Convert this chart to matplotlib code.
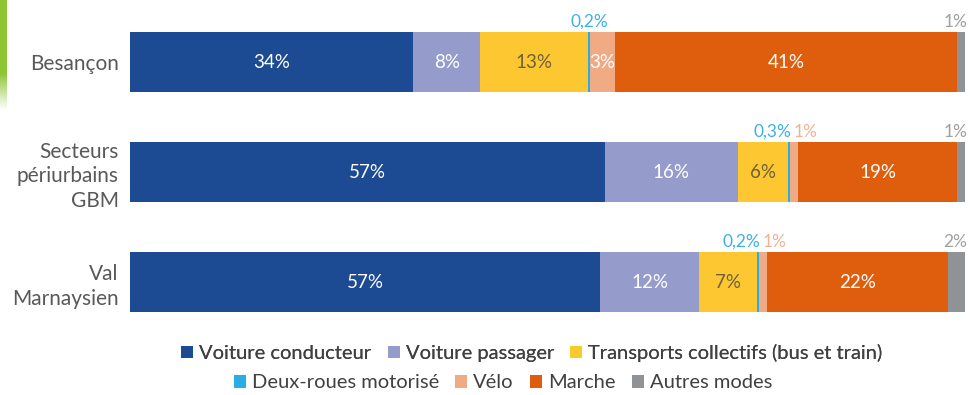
import numpy as np
import matplotlib
matplotlib.use("Agg")
import matplotlib.pyplot as plt
from matplotlib.patches import Patch

plt.rcParams["font.family"] = ["Lato", "DejaVu Sans"]

# Parts modales (%) par territoire
territoires = ["Besançon", "Secteurs\npériurbains\nGBM", "Val\nMarnaysien"]
modes = ["Voiture conducteur", "Voiture passager", "Transports collectifs (bus et train)",
         "Deux-roues motorisé", "Vélo", "Marche", "Autres modes"]
besancon = [34, 8, 13, 0.2, 3, 41, 1]
periurbains = [57, 16, 6, 0.3, 1, 19, 1]
marnaysien = [57, 12, 7, 0.2, 1, 22, 2]
etiquettes = [
    ["34%", "8%", "13%", "0,2%", "3%", "41%", "1%"],
    ["57%", "16%", "6%", "0,3%", "1%", "19%", "1%"],
    ["57%", "12%", "7%", "0,2%", "1%", "22%", "2%"],
]

couleurs = ["#1C4A93", "#959BCA", "#FDC731", "#28AEE4", "#F0AA84", "#DF5E0E", "#909395"]
couleurs_texte = ["white", "white", "#6E6136", "#3AB2E6", "white", "white", "#A0A0A0"]
couleurs_dessus = ["white", "white", "#6E6136", "#3AB2E6", "#F2B394", "white", "#A0A0A0"]

data = np.array([besancon, periurbains, marnaysien], dtype=float)
parts = data / data.sum(axis=1, keepdims=True) * 100  # barres empilées à 100 %

fig = plt.figure(figsize=(9.71, 3.95), dpi=100)
ax = fig.add_axes([130 / 971, 65 / 395, 835 / 971, 330 / 395])

y = np.arange(len(territoires))
hauteur = 0.545
gauche = np.zeros(len(territoires))
for j, mode in enumerate(modes):
    ax.barh(y, parts[:, j], left=gauche, height=hauteur, color=couleurs[j],
            edgecolor="none", label=mode)
    for i in range(len(territoires)):
        x0 = gauche[i]
        w = parts[i, j]
        txt = etiquettes[i][j]
        haut = y[i] - hauteur / 2 - 0.02
        if data[i, j] >= 3:
            ax.text(x0 + w / 2, y[i], txt, ha="center", va="center",
                    color=couleurs_texte[j], fontsize=13.5)
        elif j == 3:
            # deux-roues : au-dessus de la barre
            if data[i, 4] >= 3:
                ax.text(x0 + w / 2, haut, txt, ha="center", va="bottom",
                        color=couleurs_dessus[j], fontsize=12.5)
            else:
                ax.text(x0 + w + 0.2, haut, txt, ha="right", va="bottom",
                        color=couleurs_dessus[j], fontsize=12.5)
        elif j == 4:
            ax.text(x0 + 0.45, haut, txt, ha="left", va="bottom",
                    color=couleurs_dessus[j], fontsize=12.5)
        elif j == 6:
            ax.text(x0 + w + 0.3, haut, txt, ha="right", va="bottom",
                    color=couleurs_dessus[j], fontsize=12.5)
    gauche += parts[:, j]

ax.set_xlim(0, 100)
ax.set_ylim(2 + 48 / 110, -62 / 110)
ax.set_yticks(y)
ax.set_yticklabels(territoires, fontsize=15, color="#595959", linespacing=1.3)
ax.tick_params(axis="y", length=0, pad=8)
ax.set_xticks([])
for s in ax.spines.values():
    s.set_visible(False)

# Légende sur deux lignes
poignees = [Patch(facecolor=c, edgecolor="none") for c in couleurs]
kw = dict(frameon=False, fontsize=14.5, handlelength=0.6, handleheight=0.6,
          handletextpad=0.3, columnspacing=0.8, labelcolor="#404040")
leg1 = fig.legend(poignees[:3], modes[:3], ncol=3, loc="center",
                  bbox_to_anchor=(532 / 971, 1 - 353 / 395), **kw)
fig.add_artist(leg1)
fig.legend(poignees[3:], modes[3:], ncol=4, loc="center",
           bbox_to_anchor=(503 / 971, 1 - 383 / 395), **kw)

# Filet vert décoratif à gauche
deco = fig.add_axes([0, 1 - 110 / 395, 6 / 971, 110 / 395])
grad = np.linspace(1, 0, 100).reshape(-1, 1)
vert = np.zeros((100, 1, 4))
vert[..., 0] = 0.55
vert[..., 1] = 0.78
vert[..., 2] = 0.20
vert[..., 3] = np.clip(grad * 3, 0, 1)
deco.imshow(vert, aspect="auto")
deco.axis("off")

fig.savefig("out.png", dpi=100, facecolor="white")
